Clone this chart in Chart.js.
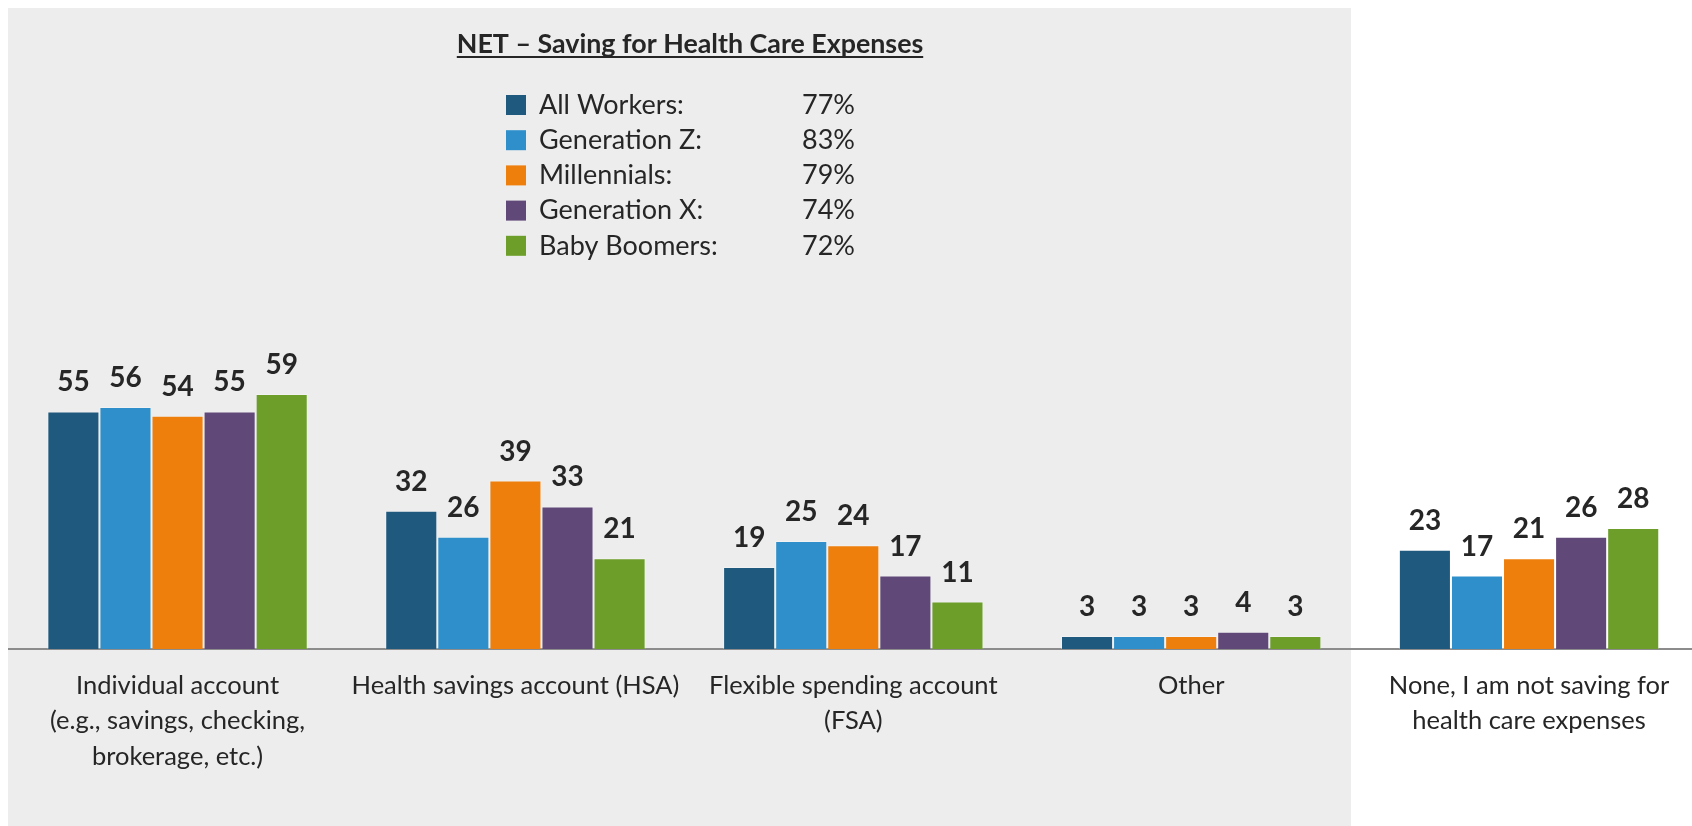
<!DOCTYPE html>
<html>
<head>
<meta charset="utf-8">
<script src="https://cdn.jsdelivr.net/npm/chart.js@4.4.1/dist/chart.umd.min.js"></script>
<style>
  html, body { margin: 0; padding: 0; background: #ffffff; overflow: hidden; }
  #wrap { width: 1692px; height: 826px; overflow: hidden; }
</style>
</head>
<body>
<div id="wrap"><canvas id="chart" width="1698" height="826"></canvas></div>
<script>
const categories = [
  ["Individual account", "(e.g., savings, checking,", "brokerage, etc.)"],
  "Health savings account (HSA)",
  ["Flexible spending account", "(FSA)"],
  "Other",
  ["None, I am not saving for", "health care expenses"],
];
const seriesNames = ["All Workers:", "Generation Z:", "Millennials:", "Generation X:", "Baby Boomers:"];
const allWorkers = [55, 32, 19, 3, 23];
const generationZ = [56, 26, 25, 3, 17];
const millennials = [54, 39, 24, 3, 21];
const generationX = [55, 33, 17, 4, 26];
const babyBoomers = [59, 21, 11, 3, 28];
const netValues = ["77%", "83%", "79%", "74%", "72%"];
const chartTitle = "NET \u2013 Saving for Health Care Expenses";

const colors = ["#1f5a7e", "#2e8fcb", "#ef7f0c", "#604878", "#6c9e29"];
const textColor = "#262626";
const seriesValues = [allWorkers, generationZ, millennials, generationX, babyBoomers];

// grey panel behind most of the chart
const panelPlugin = {
  id: "panel",
  beforeDraw(chart) {
    const ctx = chart.ctx;
    ctx.save();
    ctx.fillStyle = "#ededed";
    ctx.fillRect(8, 8, 1343, 818);
    ctx.restore();
  },
};

// title + legend with NET percentages
const headerPlugin = {
  id: "header",
  afterDraw(chart) {
    const ctx = chart.ctx;
    ctx.save();
    ctx.fillStyle = textColor;
    ctx.font = "bold 26.8px Lato";
    ctx.textAlign = "center";
    ctx.textBaseline = "alphabetic";
    ctx.fillText(chartTitle, 690, 53);
    const w = ctx.measureText(chartTitle).width;
    ctx.fillRect(690 - w / 2, 56, w, 2);

    ctx.font = "27px Lato";
    ctx.textAlign = "left";
    ctx.textBaseline = "middle";
    chart.data.datasets.forEach((ds, i) => {
      const y = 105 + i * 35.2;
      ctx.fillStyle = ds.backgroundColor;
      ctx.fillRect(506, y - 10, 20, 20);
      ctx.fillStyle = textColor;
      ctx.fillText(ds.label, 539, y);
      ctx.fillText(netValues[i], 802, y);
    });
    ctx.restore();
  },
};

// value labels above each bar
const valueLabels = {
  id: "valueLabels",
  afterDatasetsDraw(chart) {
    const ctx = chart.ctx;
    ctx.save();
    ctx.font = "bold 28px Lato";
    ctx.fillStyle = textColor;
    ctx.textAlign = "center";
    ctx.textBaseline = "middle";
    chart.data.datasets.forEach((ds, i) => {
      chart.getDatasetMeta(i).data.forEach((bar, j) => {
        ctx.fillText(ds.data[j], bar.x, bar.y - 29);
      });
    });
    ctx.restore();
  },
};

const chart = new Chart(document.getElementById("chart").getContext("2d"), {
  type: "bar",
  data: {
    labels: categories,
    datasets: seriesNames.map((name, i) => ({
      label: name,
      data: seriesValues[i],
      backgroundColor: colors[i],
      borderColor: "rgba(255, 255, 255, 0.3)",
      borderWidth: { top: 1, left: 1, right: 1, bottom: 0 },
      categoryPercentage: 0.7706,
      barPercentage: 1,
    })),
  },
  options: {
    responsive: false,
    animation: false,
    devicePixelRatio: 1,
    layout: { padding: { top: 217, left: 8.6, right: 0, bottom: 0 } },
    plugins: {
      legend: { display: false },
      tooltip: { enabled: false },
    },
    scales: {
      x: {
        grid: { display: false, drawTicks: false },
        border: { display: true, color: "#8c8c8c", width: 2 },
        ticks: {
          color: textColor,
          font: { family: "Lato", size: 25.5, lineHeight: 1.392 },
          padding: 19,
          maxRotation: 0,
          autoSkip: false,
        },
        afterFit(scale) {
          scale.height = 177;
        },
      },
      y: {
        display: false,
        min: 0,
        max: 100,
      },
    },
  },
  plugins: [panelPlugin, valueLabels, headerPlugin],
});
</script>
</body>
</html>
